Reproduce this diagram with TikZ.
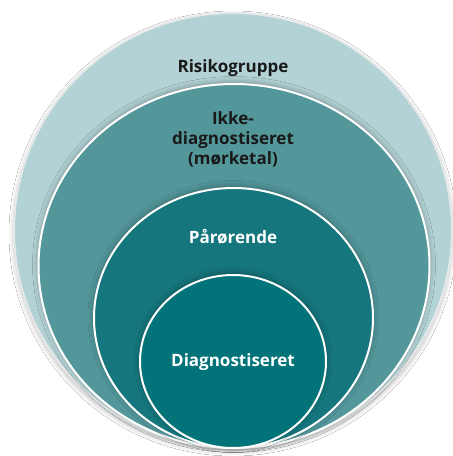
\documentclass[tikz,border=0pt]{standalone}
\usepackage{fontspec}
\setmainfont{Open Sans}
\usetikzlibrary{shadows.blur}

\definecolor{risiko}{HTML}{B3D2D5}
\definecolor{ikke}{HTML}{53979B}
\definecolor{paaro}{HTML}{15767D}
\definecolor{diag}{HTML}{027479}
\definecolor{rim}{HTML}{E4E8E8}

\begin{document}
\begin{tikzpicture}[x=1pt,y=-1pt]
\tikzstyle{every node}+=[inner sep=0pt, align=center, font=\bfseries\fontsize{17}{20}\selectfont]
\tikzstyle{ring}=[draw=white, line width=2pt, blur shadow={shadow xshift=0pt, shadow yshift=1.5pt, shadow blur radius=6pt, shadow opacity=35}]
\useasboundingbox (0,0) rectangle (453,456);
\fill [white] (0,0) rectangle (453,456);
% outer ring
\draw [rim, line width=2pt, fill=risiko, blur shadow={shadow xshift=0pt, shadow yshift=-3pt, shadow blur radius=5pt, shadow opacity=30}] (233,230.5) ellipse (219 and 217.5);
% nested rings, bottom aligned
\draw [ring, fill=ikke] (234,266) ellipse (195.5 and 182);
\draw [ring, fill=paaro] (233.5,318) ellipse (139.5 and 130);
\draw [ring, fill=diag] (233,361.5) ellipse (93 and 86.5);
% labels
\node (risk) [text=black!90] at (233,68) {Risikogruppe};
\node (ikke) [text=black!90] at (233,139) {Ikke-\\diagnostiseret\\(mørketal)};
\node (paar) [text=white] at (233,237) {Pårørende};
\node (diag) [text=white] at (233,362) {Diagnostiseret};
\end{tikzpicture}
\end{document}
